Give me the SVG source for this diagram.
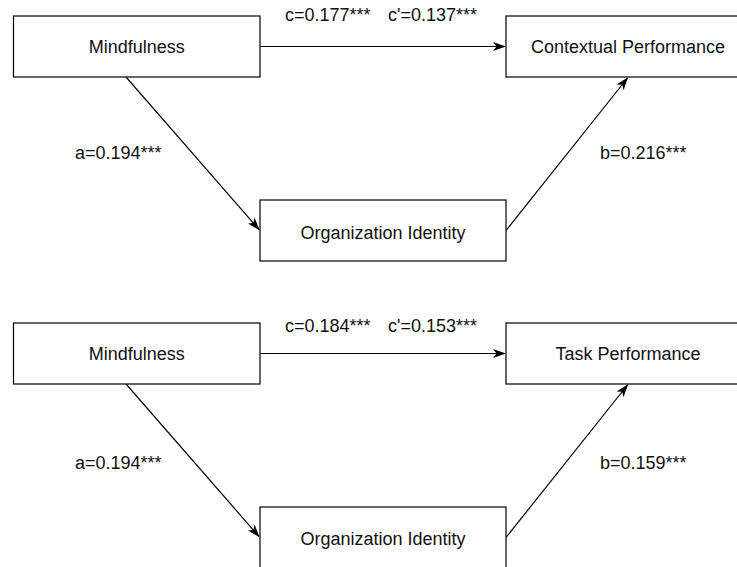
<svg xmlns="http://www.w3.org/2000/svg" width="737" height="567" viewBox="0 0 737 567">
<style>
.box{fill:#fff;stroke:#000;stroke-width:1.2}
.lbl{font-family:"Liberation Sans",Arial,sans-serif;font-size:18px;fill:#111}
.mid{text-anchor:middle}
.edge{fill:none;stroke:#000;stroke-width:1.2;marker-end:url(#arr)}
</style>
<defs>
<marker id="arr" markerUnits="userSpaceOnUse" markerWidth="14" markerHeight="10" refX="12" refY="4.5" orient="auto" viewBox="0 0 14 9">
<path d="M0,0 L13,4.5 L0,9 L3.5,4.5 z" fill="#000"/>
</marker>
</defs>
<rect width="737" height="567" fill="#fff"/>
<g id="connectors">
<line class="edge" x1="260" y1="46.5" x2="505" y2="46.5"/>
<line class="edge" x1="126" y1="77" x2="259" y2="229.5"/>
<line class="edge" x1="506" y1="230.5" x2="627.5" y2="78"/>
<line class="edge" x1="260" y1="353.5" x2="505" y2="353.5"/>
<line class="edge" x1="126" y1="384" x2="259" y2="536.5"/>
<line class="edge" x1="506" y1="537.5" x2="627.5" y2="385"/>
</g>
<g id="labels">
<text class="lbl" x="285" y="20.5">c=0.177***</text>
<text class="lbl" x="388" y="20.5">c'=0.137***</text>
<text class="lbl" x="75" y="159">a=0.194***</text>
<text class="lbl" x="600" y="159">b=0.216***</text>
<text class="lbl" x="285" y="332">c=0.184***</text>
<text class="lbl" x="388" y="332">c'=0.153***</text>
<text class="lbl" x="75" y="469">a=0.194***</text>
<text class="lbl" x="600" y="469">b=0.159***</text>
</g>
<g id="mindfulness1">
<rect class="box" x="13.5" y="16" width="246.5" height="61"/>
<text class="lbl mid" x="136.75" y="53">Mindfulness</text>
</g>
<g id="contextual">
<rect class="box" x="506" y="16" width="246" height="61"/>
<text class="lbl mid" x="628" y="53">Contextual Performance</text>
</g>
<g id="orgidentity1">
<rect class="box" x="260" y="200" width="246" height="61"/>
<text class="lbl mid" x="383" y="238.5">Organization Identity</text>
</g>
<g id="mindfulness2">
<rect class="box" x="13.5" y="323" width="246.5" height="61"/>
<text class="lbl mid" x="136.75" y="360">Mindfulness</text>
</g>
<g id="task">
<rect class="box" x="506" y="323" width="246" height="61"/>
<text class="lbl mid" x="628" y="360">Task Performance</text>
</g>
<g id="orgidentity2">
<rect class="box" x="260" y="507" width="246" height="61"/>
<text class="lbl mid" x="383" y="545">Organization Identity</text>
</g>
</svg>
